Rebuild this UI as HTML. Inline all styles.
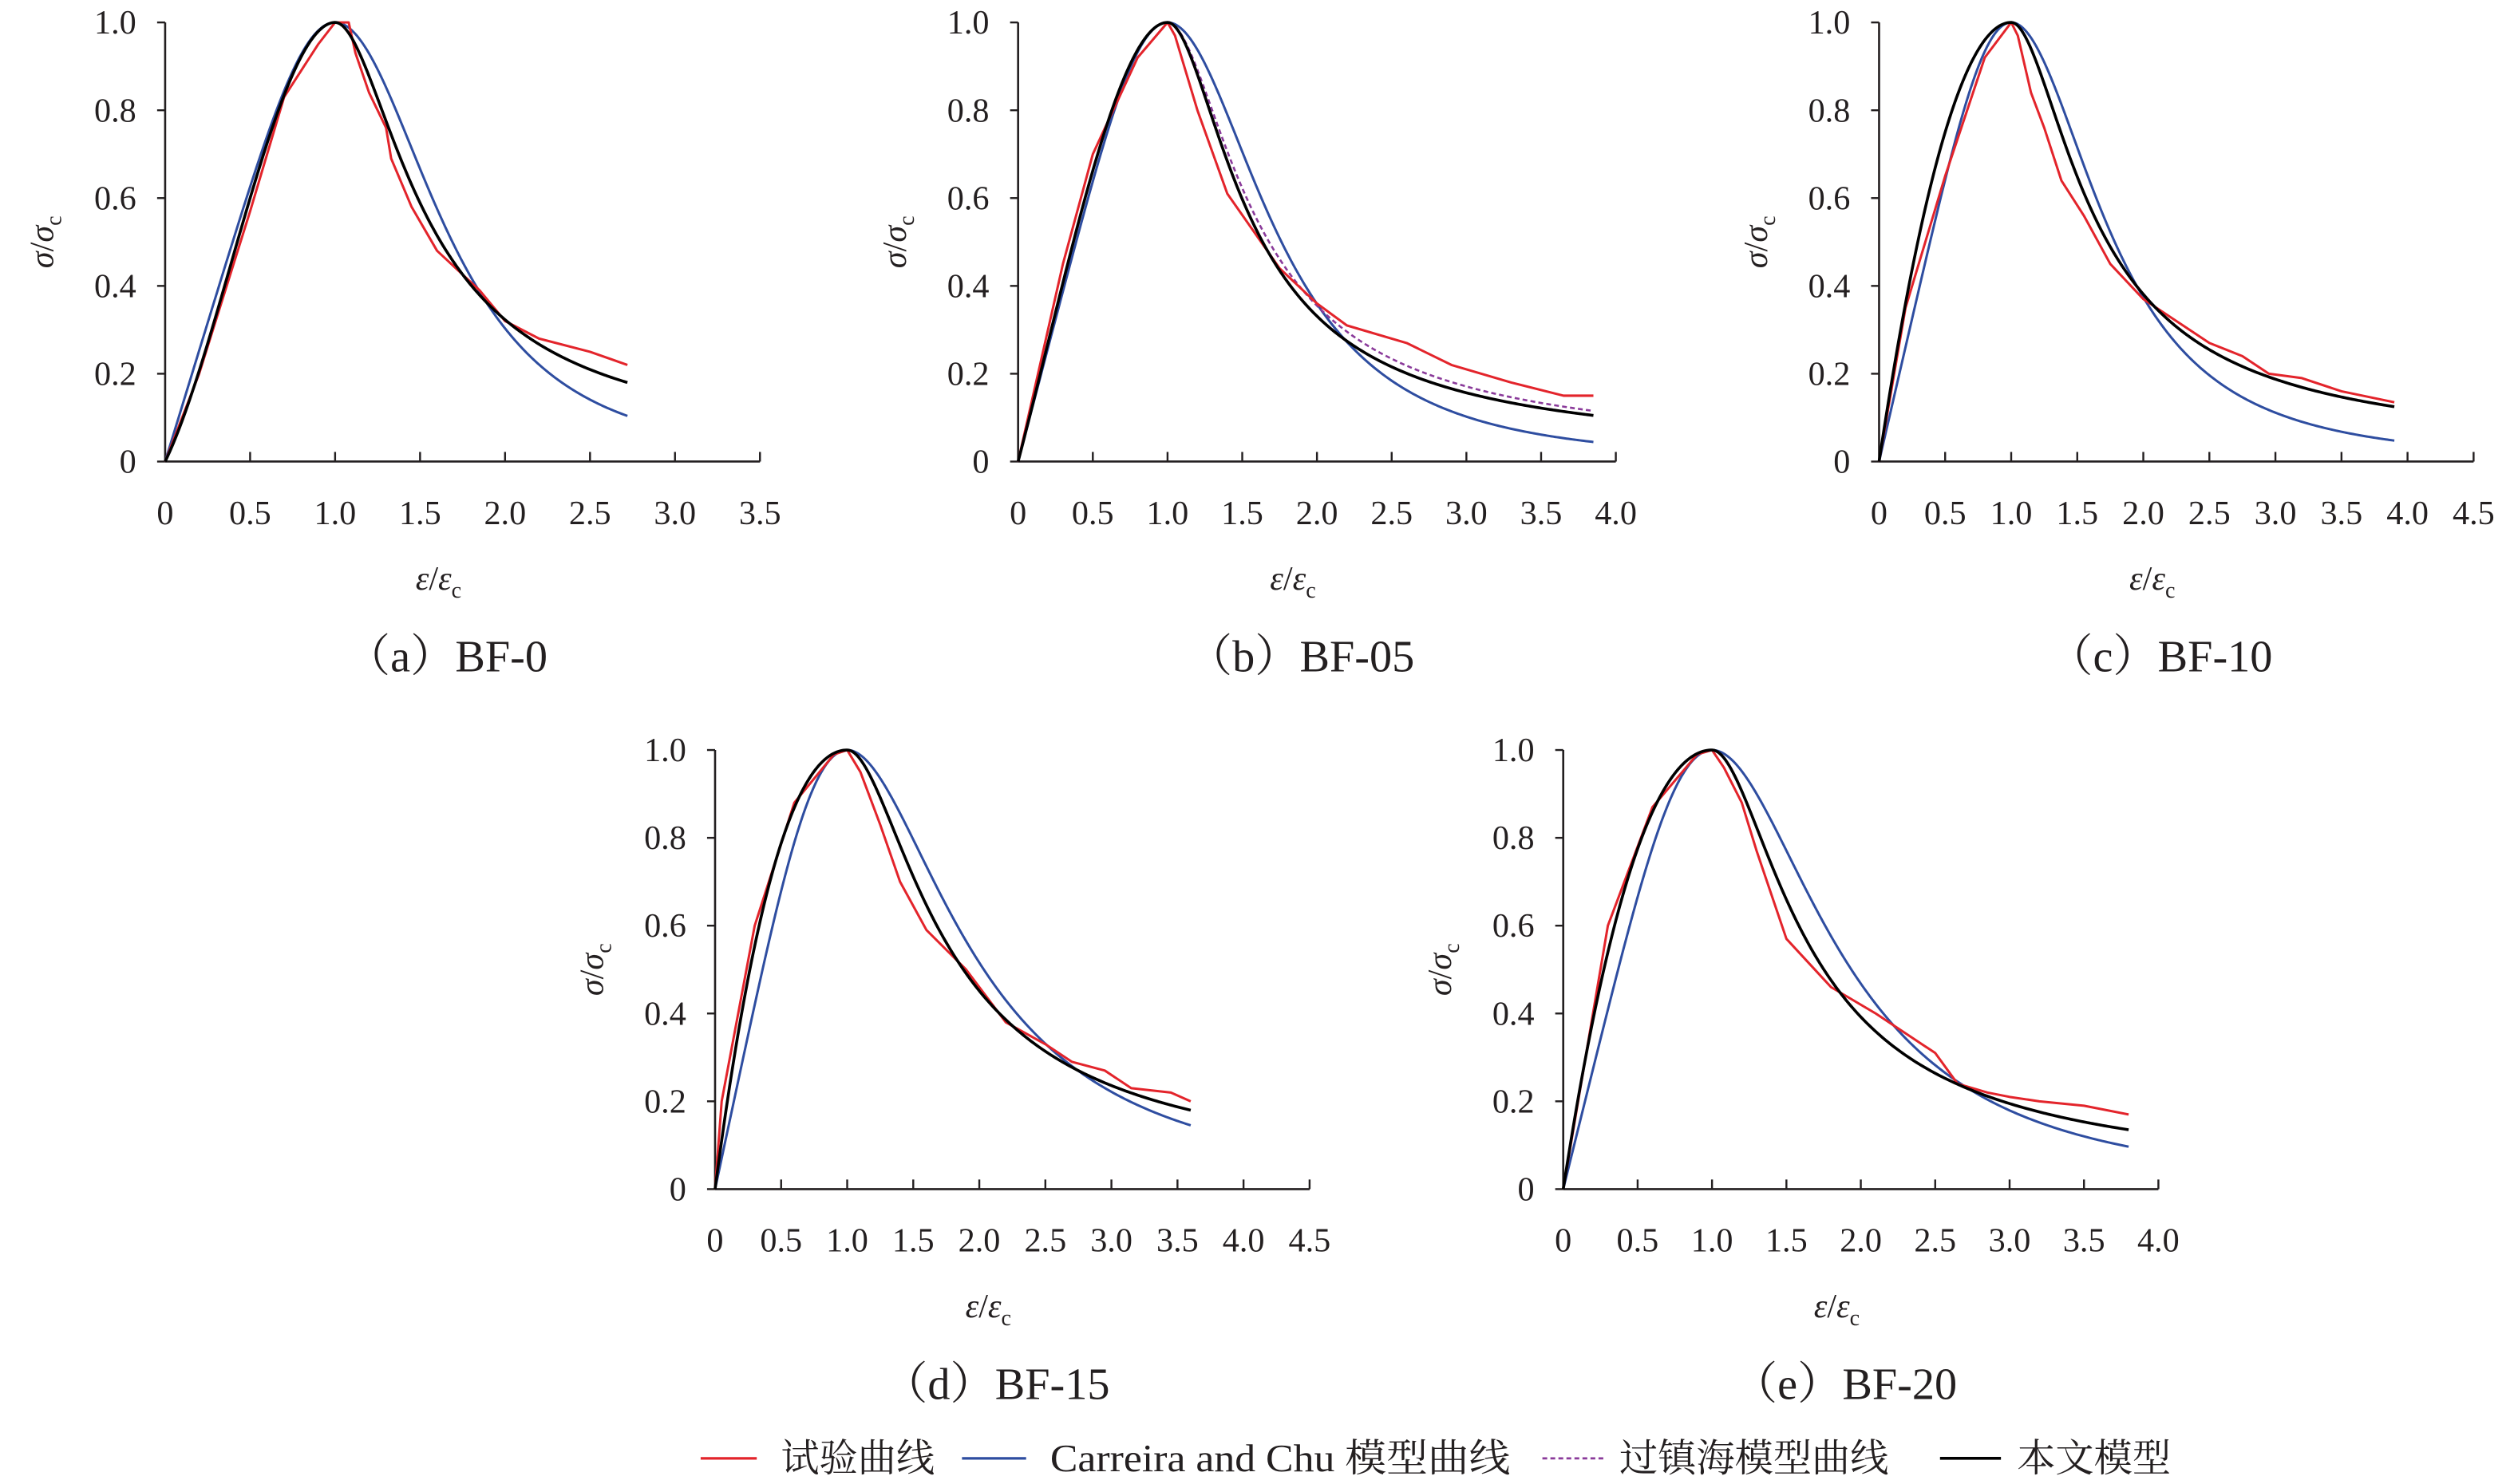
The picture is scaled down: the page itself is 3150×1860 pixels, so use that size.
<!DOCTYPE html>
<html><head><meta charset="utf-8">
<style>
html,body{margin:0;padding:0;background:#fff;}
svg{display:block;}
text{font-family:"Liberation Serif","Noto Serif CJK SC",serif;fill:#231f20;}
</style></head>
<body>
<svg id="s" width="3150" height="1860" viewBox="0 0 1568 926" preserveAspectRatio="none" xmlns="http://www.w3.org/2000/svg">
<g id="g"></g>
<g font-size="24">
<line x1="437" y1="910" x2="472" y2="910" stroke="#e3242b" stroke-width="1.6"/>
<text x="487" y="918">试验曲线</text>
<line x1="600" y1="910" x2="640" y2="910" stroke="#2e4da0" stroke-width="1.6"/>
<text x="655" y="918" textLength="287" lengthAdjust="spacingAndGlyphs">Carreira and Chu 模型曲线</text>
<line x1="962" y1="910" x2="1000" y2="910" stroke="#8a3a9a" stroke-width="1.4" stroke-dasharray="3,2"/>
<text x="1010" y="918">过镇海模型曲线</text>
<line x1="1210" y1="910" x2="1248" y2="910" stroke="#000" stroke-width="1.8"/>
<text x="1258" y="918">本文模型</text>
</g>
</svg>
<script>
var NS="http://www.w3.org/2000/svg",G=document.getElementById('g');
function el(t,a,txt){var e=document.createElementNS(NS,t);for(var k in a)e.setAttribute(k,a[k]);if(txt!=null)e.textContent=txt;G.appendChild(e);return e;}
var panels=[
{ox:103,oy:288,xmax:3.5,u:53.0,cap:"（a）BF-0",end:2.72,beta:4.8,alpha:4.19,a:0.8,
 red:[[0,0],[0.2,0.2],[0.5,0.57],[0.7,0.83],[0.9,0.95],[1,1],[1.08,1],[1.12,0.93],[1.2,0.84],[1.3,0.76],[1.33,0.69],[1.45,0.58],[1.6,0.48],[1.85,0.39],[2,0.32],[2.2,0.28],[2.5,0.25],[2.72,0.22]]},
{ox:635,oy:288,xmax:4.0,u:46.6,cap:"（b）BF-05",end:3.85,beta:4.4,alpha:4.04,a:1.3,purple:true,
 red:[[0,0],[0.3,0.45],[0.5,0.7],[0.8,0.92],[1,1],[1.05,0.97],[1.2,0.8],[1.4,0.61],[1.75,0.44],[2,0.36],[2.2,0.31],[2.6,0.27],[2.9,0.22],[3.3,0.18],[3.65,0.15],[3.85,0.15]]},
{ox:1172,oy:288,xmax:4.5,u:41.2,cap:"（c）BF-10",end:3.9,beta:4.3,alpha:3.25,a:2.0,
 red:[[0,0],[0.2,0.35],[0.5,0.65],[0.8,0.92],[1,1],[1.05,0.97],[1.15,0.84],[1.25,0.76],[1.38,0.64],[1.55,0.56],[1.75,0.45],[2,0.37],[2.2,0.33],[2.5,0.27],[2.75,0.24],[2.95,0.2],[3.2,0.19],[3.5,0.16],[3.9,0.135]]},
{ox:446,oy:742,xmax:4.5,u:41.2,cap:"（d）BF-15",end:3.6,beta:3.45,alpha:2.43,a:2.3,
 red:[[0,0],[0.05,0.2],[0.3,0.6],[0.6,0.88],[0.9,0.99],[1,1],[1.1,0.95],[1.25,0.83],[1.4,0.7],[1.6,0.59],[1.9,0.5],[2.2,0.38],[2.5,0.33],[2.7,0.29],[2.95,0.27],[3.15,0.23],[3.45,0.22],[3.6,0.2]]},
{ox:975,oy:742,xmax:4.0,u:46.4,cap:"（e）BF-20",end:3.8,beta:3.72,alpha:3.1,a:2.2,
 red:[[0,0],[0.3,0.6],[0.6,0.87],[0.9,0.99],[1,1],[1.08,0.96],[1.2,0.88],[1.3,0.77],[1.5,0.57],[1.8,0.46],[2.1,0.4],[2.5,0.31],[2.65,0.24],[2.85,0.22],[3,0.21],[3.2,0.2],[3.5,0.19],[3.8,0.17]]}
];
panels.forEach(function(p){
 var H=274,sx=function(x){return p.ox+x*p.u*2},sy=function(y){return p.oy-y*H};
 var xe=sx(p.xmax);
 el('line',{x1:p.ox,y1:p.oy,x2:xe,y2:p.oy,stroke:'#231f20','stroke-width':1.3});
 el('line',{x1:p.ox,y1:p.oy,x2:p.ox,y2:p.oy-H,stroke:'#231f20','stroke-width':1.3});
 for(var i=0;i<=5;i++){var y=sy(i*0.2);el('line',{x1:p.ox-5,y1:y,x2:p.ox,y2:y,stroke:'#231f20','stroke-width':1.2});
  el('text',{x:p.ox-18,y:y+7,'font-size':21,'text-anchor':'end'},i==0?"0":(i*0.2).toFixed(1));}
 for(var v=0;v<=p.xmax+1e-6;v+=0.5){var x=sx(v);if(v>0)el('line',{x1:x,y1:p.oy,x2:x,y2:p.oy-6,stroke:'#231f20','stroke-width':1.2});
  el('text',{x:x,y:p.oy+39,'font-size':21,'text-anchor':'middle'},v==0?"0":v.toFixed(1));}
 var t=el('text',{x:0,y:0,'font-size':21,'text-anchor':'middle',transform:'translate('+(p.ox-70)+','+(p.oy-H/2)+') rotate(-90)'});
 t.innerHTML='<tspan font-style="italic">σ</tspan>/<tspan font-style="italic">σ</tspan><tspan font-size="14" dy="5">c</tspan>';
 var t2=el('text',{x:(p.ox+xe)/2-15,y:p.oy+80,'font-size':21,'text-anchor':'middle'});
 t2.innerHTML='<tspan font-style="italic">ε</tspan>/<tspan font-style="italic">ε</tspan><tspan font-size="14" dy="5">c</tspan>';
 el('text',{x:(p.ox+xe)/2-10,y:p.oy+131,'font-size':28,'text-anchor':'middle'},p.cap);
 function path(f,col,w,dash){var d="";for(var k=0;k<=300;k++){var x=p.end*k/300,y=f(x);d+=(k?"L":"M")+sx(x).toFixed(2)+","+sy(y).toFixed(2);}
  var a={d:d,fill:'none',stroke:col,'stroke-width':w};if(dash)a['stroke-dasharray']=dash;el('path',a);}
 var b=p.beta;
 path(function(x){return x==0?0:b*x/(b-1+Math.pow(x,b));},'#2e4da0',1.5);
 function blk(al){return function(x){if(x<=1){var a=p.a;return a*x+(3-2*a)*x*x+(a-2)*x*x*x;}return x/(al*(x-1)*(x-1)+x);}}
 if(p.purple)path(blk(p.alpha*0.9),'#8a3a9a',1.3,'3,2');
 var d="";p.red.forEach(function(q,k){d+=(k?"L":"M")+sx(q[0]).toFixed(2)+","+sy(q[1]).toFixed(2);});
 el('path',{d:d,fill:'none',stroke:'#e3242b','stroke-width':1.5,'stroke-linejoin':'round'});
 path(blk(p.alpha),'#000',1.8);
});
</script>
</body></html>
